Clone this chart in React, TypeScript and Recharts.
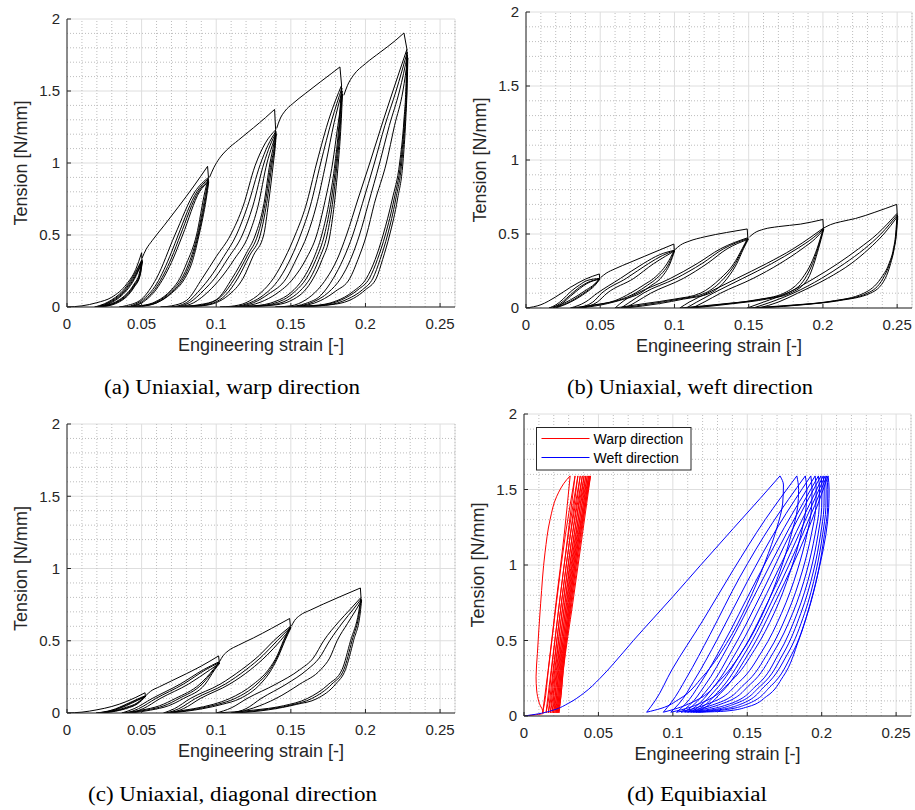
import React from 'react';
import { LineChart, Line, XAxis, YAxis, CartesianGrid, ReferenceLine } from 'recharts';

const strainTicks = [0, 0.05, 0.1, 0.15, 0.2, 0.25];
const tensionTicks = [0, 0.5, 1, 1.5, 2];
const strainMinor = [0.01, 0.02, 0.03, 0.04, 0.06, 0.07, 0.08, 0.09, 0.11, 0.12, 0.13, 0.14, 0.16, 0.17, 0.18, 0.19, 0.21, 0.22, 0.23, 0.24, 0.26];
const tensionMinor = [0.1, 0.2, 0.3, 0.4, 0.6, 0.7, 0.8, 0.9, 1.1, 1.2, 1.3, 1.4, 1.6, 1.7, 1.8, 1.9];

// every curve is a flat list: strain, tension, strain, tension, ...

// (a) uniaxial, warp
const warpEnvelope = [
  [0, 0, 0.01, 0.008, 0.02, 0.03, 0.03, 0.068, 0.04, 0.16, 0.046, 0.26, 0.05, 0.377],
  [0.0503, 0.34, 0.053, 0.4, 0.057, 0.46, 0.065, 0.565, 0.075, 0.7, 0.085, 0.84, 0.0942, 0.977],
  [0.0955, 0.9, 0.0985, 0.97, 0.102, 1.03, 0.107, 1.09, 0.115, 1.16, 0.125, 1.245, 0.133, 1.315, 0.1391, 1.372],
  [0.1405, 1.24, 0.1425, 1.3, 0.146, 1.36, 0.151, 1.41, 0.16, 1.485, 0.17, 1.565, 0.177, 1.62, 0.1829, 1.667],
  [0.1855, 1.47, 0.188, 1.54, 0.192, 1.61, 0.2, 1.69, 0.21, 1.77, 0.22, 1.85, 0.2258, 1.903],
];
const warpDrops = [
  [0.05, 0.377, 0.0502, 0.33],
  [0.0942, 0.977, 0.0948, 0.9],
  [0.1391, 1.372, 0.1398, 1.23],
  [0.1829, 1.667, 0.184, 1.54],
  [0.2258, 1.903, 0.2278, 1.79],
];
const warpReload = [
  [0.0185, 0, 0.025, 0.022, 0.03, 0.05, 0.035, 0.088, 0.04, 0.145, 0.045, 0.225, 0.0502, 0.33],
  [0.0195, 0, 0.025, 0.018, 0.03, 0.044, 0.035, 0.08, 0.04, 0.135, 0.045, 0.212, 0.0503, 0.325],
  [0.0205, 0, 0.025, 0.014, 0.03, 0.038, 0.035, 0.072, 0.04, 0.125, 0.045, 0.2, 0.0504, 0.32],
  [0.0215, 0, 0.025, 0.01, 0.03, 0.032, 0.035, 0.065, 0.04, 0.115, 0.045, 0.19, 0.0505, 0.315],
  [0.035, 0, 0.04, 0.01, 0.05, 0.055, 0.06, 0.2, 0.0723, 0.5, 0.0857, 0.8, 0.0948, 0.9],
  [0.04, 0, 0.05, 0.045, 0.06, 0.16, 0.07, 0.38, 0.0745, 0.5, 0.087, 0.8, 0.0948, 0.89],
  [0.0415, 0, 0.05, 0.035, 0.06, 0.14, 0.07, 0.34, 0.076, 0.5, 0.088, 0.8, 0.0949, 0.88],
  [0.043, 0, 0.05, 0.028, 0.06, 0.125, 0.07, 0.31, 0.0775, 0.5, 0.0888, 0.8, 0.095, 0.87],
  [0.0627, 0, 0.07, 0.008, 0.08, 0.045, 0.0907, 0.2, 0.1, 0.35, 0.1096, 0.5, 0.118, 0.7, 0.126, 0.98, 0.133, 1.14, 0.1398, 1.23],
  [0.07, 0, 0.08, 0.03, 0.09, 0.13, 0.0955, 0.2, 0.105, 0.35, 0.1135, 0.5, 0.121, 0.7, 0.1295, 0.99, 0.1345, 1.12, 0.14, 1.22],
  [0.0725, 0, 0.082, 0.03, 0.092, 0.12, 0.099, 0.2, 0.108, 0.34, 0.1175, 0.5, 0.1245, 0.7, 0.132, 1.0, 0.136, 1.12, 0.1401, 1.21],
  [0.075, 0, 0.085, 0.03, 0.095, 0.11, 0.103, 0.2, 0.112, 0.33, 0.1218, 0.5, 0.128, 0.7, 0.134, 1.0, 0.1375, 1.12, 0.1402, 1.2],
  [0.1025, 0, 0.11, 0.005, 0.12, 0.03, 0.13, 0.1, 0.1384, 0.2, 0.146, 0.34, 0.1529, 0.5, 0.16, 0.7, 0.1673, 1.0, 0.176, 1.32, 0.184, 1.54],
  [0.11, 0, 0.12, 0.02, 0.13, 0.07, 0.1425, 0.2, 0.15, 0.34, 0.1565, 0.5, 0.163, 0.7, 0.17, 1.0, 0.1775, 1.3, 0.1842, 1.52],
  [0.112, 0, 0.125, 0.03, 0.135, 0.09, 0.147, 0.2, 0.154, 0.34, 0.161, 0.5, 0.167, 0.7, 0.1735, 1.0, 0.179, 1.28, 0.1844, 1.5],
  [0.115, 0, 0.13, 0.035, 0.14, 0.09, 0.1518, 0.2, 0.16, 0.33, 0.1673, 0.5, 0.173, 0.74, 0.178, 1.0, 0.1815, 1.26, 0.1846, 1.48],
  [0.1397, 0, 0.15, 0.008, 0.16, 0.05, 0.168, 0.12, 0.174, 0.2, 0.181, 0.33, 0.1873, 0.5, 0.195, 0.75, 0.2029, 1.0, 0.2105, 1.25, 0.2184, 1.5, 0.2278, 1.79],
  [0.148, 0, 0.16, 0.025, 0.17, 0.08, 0.1785, 0.2, 0.185, 0.33, 0.1915, 0.5, 0.198, 0.72, 0.206, 1.0, 0.213, 1.26, 0.2205, 1.5, 0.228, 1.77],
  [0.15, 0, 0.165, 0.035, 0.175, 0.1, 0.1835, 0.2, 0.19, 0.33, 0.196, 0.5, 0.202, 0.72, 0.2095, 1.0, 0.216, 1.26, 0.2228, 1.5, 0.2282, 1.75],
  [0.153, 0, 0.17, 0.045, 0.18, 0.11, 0.1896, 0.2, 0.195, 0.33, 0.2007, 0.5, 0.206, 0.72, 0.214, 1.0, 0.2195, 1.26, 0.2251, 1.5, 0.2284, 1.73],
];
const warpUnload = [
  [0.0185, 0, 0.025, 0.01, 0.03, 0.024, 0.035, 0.05, 0.04, 0.092, 0.045, 0.16, 0.0485, 0.235, 0.0502, 0.33],
  [0.0195, 0, 0.025, 0.008, 0.03, 0.02, 0.035, 0.045, 0.04, 0.085, 0.045, 0.152, 0.0488, 0.23, 0.0503, 0.325],
  [0.0205, 0, 0.025, 0.006, 0.03, 0.017, 0.035, 0.04, 0.04, 0.078, 0.045, 0.145, 0.049, 0.225, 0.0504, 0.32],
  [0.0215, 0, 0.025, 0.004, 0.03, 0.014, 0.035, 0.035, 0.04, 0.072, 0.045, 0.138, 0.049, 0.22, 0.0505, 0.315],
  [0.035, 0, 0.05, 0.01, 0.06, 0.04, 0.07, 0.12, 0.0757, 0.2, 0.08, 0.3, 0.0868, 0.5, 0.0924, 0.8, 0.0948, 0.9],
  [0.04, 0, 0.05, 0.008, 0.06, 0.035, 0.07, 0.11, 0.077, 0.2, 0.0815, 0.3, 0.0875, 0.5, 0.0928, 0.78, 0.0948, 0.89],
  [0.0415, 0, 0.05, 0.006, 0.06, 0.03, 0.07, 0.1, 0.078, 0.2, 0.0825, 0.3, 0.088, 0.5, 0.093, 0.76, 0.0949, 0.88],
  [0.043, 0, 0.05, 0.005, 0.06, 0.028, 0.07, 0.095, 0.079, 0.2, 0.0835, 0.3, 0.0885, 0.5, 0.0933, 0.75, 0.095, 0.87],
  [0.0627, 0, 0.08, 0.006, 0.09, 0.018, 0.1, 0.05, 0.1107, 0.2, 0.12, 0.37, 0.1262, 0.5, 0.132, 0.72, 0.136, 1.0, 0.1385, 1.13, 0.1398, 1.23],
  [0.07, 0, 0.085, 0.008, 0.095, 0.025, 0.103, 0.07, 0.1125, 0.2, 0.121, 0.36, 0.1278, 0.5, 0.1328, 0.72, 0.1368, 1.0, 0.139, 1.12, 0.14, 1.22],
  [0.0725, 0, 0.088, 0.008, 0.098, 0.028, 0.106, 0.08, 0.1145, 0.2, 0.1225, 0.36, 0.1295, 0.5, 0.1338, 0.72, 0.1375, 1.0, 0.1393, 1.12, 0.1401, 1.21],
  [0.075, 0, 0.09, 0.008, 0.1, 0.03, 0.108, 0.08, 0.118, 0.2, 0.125, 0.36, 0.1318, 0.5, 0.135, 0.72, 0.1383, 1.0, 0.1396, 1.12, 0.1402, 1.2],
  [0.1025, 0, 0.125, 0.008, 0.14, 0.04, 0.15, 0.1, 0.1584, 0.2, 0.165, 0.33, 0.1707, 0.5, 0.176, 0.75, 0.1796, 1.0, 0.1825, 1.3, 0.184, 1.54],
  [0.11, 0, 0.13, 0.01, 0.145, 0.05, 0.153, 0.11, 0.1605, 0.2, 0.1668, 0.33, 0.1725, 0.5, 0.1772, 0.75, 0.1803, 1.0, 0.1828, 1.28, 0.1842, 1.52],
  [0.112, 0, 0.135, 0.012, 0.148, 0.05, 0.156, 0.11, 0.163, 0.2, 0.1688, 0.33, 0.1743, 0.5, 0.1783, 0.75, 0.181, 1.0, 0.1832, 1.27, 0.1844, 1.5],
  [0.115, 0, 0.14, 0.015, 0.152, 0.055, 0.159, 0.11, 0.1651, 0.2, 0.171, 0.33, 0.1762, 0.5, 0.1795, 0.75, 0.1818, 1.0, 0.1836, 1.26, 0.1846, 1.48],
  [0.1397, 0, 0.165, 0.01, 0.18, 0.04, 0.192, 0.11, 0.2007, 0.2, 0.2065, 0.33, 0.2118, 0.5, 0.218, 0.75, 0.2229, 1.0, 0.2258, 1.3, 0.2272, 1.55, 0.2278, 1.79],
  [0.148, 0, 0.17, 0.012, 0.184, 0.05, 0.195, 0.12, 0.2027, 0.2, 0.208, 0.33, 0.2133, 0.5, 0.2192, 0.75, 0.2236, 1.0, 0.2262, 1.3, 0.2275, 1.55, 0.228, 1.77],
  [0.15, 0, 0.175, 0.015, 0.188, 0.055, 0.198, 0.12, 0.205, 0.2, 0.2098, 0.33, 0.2148, 0.5, 0.2203, 0.75, 0.2243, 1.0, 0.2266, 1.3, 0.2278, 1.55, 0.2282, 1.75],
  [0.153, 0, 0.18, 0.02, 0.192, 0.06, 0.2, 0.12, 0.2073, 0.2, 0.2115, 0.33, 0.2162, 0.5, 0.2215, 0.75, 0.2251, 1.0, 0.227, 1.3, 0.228, 1.55, 0.2284, 1.73],
];

// (b) uniaxial, weft
const weftEnvelope = [
  [0, 0, 0.01, 0.022, 0.02, 0.075, 0.03, 0.14, 0.04, 0.195, 0.0494, 0.23],
  [0.0502, 0.205, 0.054, 0.235, 0.06, 0.265, 0.07, 0.308, 0.08, 0.35, 0.09, 0.392, 0.0996, 0.432],
  [0.1004, 0.395, 0.104, 0.425, 0.11, 0.452, 0.12, 0.48, 0.135, 0.51, 0.149, 0.534],
  [0.1505, 0.48, 0.154, 0.508, 0.16, 0.532, 0.17, 0.55, 0.185, 0.567, 0.2, 0.598],
  [0.2005, 0.54, 0.205, 0.563, 0.212, 0.583, 0.222, 0.605, 0.235, 0.647, 0.2497, 0.7],
];
const weftDrops = [
  [0.0494, 0.23, 0.0496, 0.2],
  [0.0996, 0.432, 0.0999, 0.39],
  [0.149, 0.534, 0.1494, 0.475],
  [0.2, 0.598, 0.2003, 0.54],
  [0.2497, 0.7, 0.25, 0.64],
];
const weftReload = [
  [0.0155, 0, 0.02, 0.02, 0.025, 0.06, 0.03, 0.11, 0.036, 0.155, 0.041, 0.185, 0.0496, 0.2],
  [0.018, 0, 0.025, 0.045, 0.03, 0.09, 0.036, 0.14, 0.041, 0.17, 0.0497, 0.198],
  [0.02, 0, 0.025, 0.035, 0.03, 0.08, 0.036, 0.13, 0.041, 0.165, 0.0498, 0.195],
  [0.03, 0, 0.04, 0.04, 0.048, 0.1, 0.0636, 0.2, 0.079, 0.3, 0.09, 0.36, 0.0999, 0.39],
  [0.034, 0, 0.045, 0.04, 0.051, 0.1, 0.0675, 0.2, 0.0825, 0.3, 0.092, 0.355, 0.1, 0.388],
  [0.037, 0, 0.048, 0.04, 0.0546, 0.1, 0.0726, 0.2, 0.086, 0.3, 0.094, 0.35, 0.1001, 0.386],
  [0.06, 0, 0.066, 0.05, 0.075, 0.1, 0.0973, 0.2, 0.1153, 0.3, 0.131, 0.4, 0.1494, 0.475],
  [0.064, 0, 0.07, 0.04, 0.079, 0.1, 0.101, 0.2, 0.1185, 0.3, 0.133, 0.4, 0.1496, 0.47],
  [0.067, 0, 0.074, 0.04, 0.084, 0.1, 0.106, 0.2, 0.122, 0.3, 0.1355, 0.4, 0.1498, 0.465],
  [0.1036, 0, 0.11, 0.04, 0.122, 0.1, 0.142, 0.2, 0.162, 0.3, 0.18, 0.4, 0.192, 0.48, 0.2003, 0.54],
  [0.108, 0, 0.115, 0.04, 0.126, 0.1, 0.146, 0.2, 0.1655, 0.3, 0.1825, 0.4, 0.1935, 0.475, 0.2004, 0.535],
  [0.112, 0, 0.12, 0.04, 0.131, 0.1, 0.153, 0.2, 0.171, 0.3, 0.186, 0.4, 0.195, 0.47, 0.2005, 0.53],
  [0.149, 0, 0.16, 0.04, 0.176, 0.1, 0.194, 0.2, 0.21, 0.3, 0.224, 0.4, 0.2366, 0.5, 0.25, 0.64],
  [0.153, 0, 0.165, 0.04, 0.18, 0.1, 0.199, 0.2, 0.2145, 0.3, 0.228, 0.4, 0.239, 0.5, 0.2502, 0.63],
  [0.157, 0, 0.17, 0.04, 0.183, 0.1, 0.203, 0.2, 0.219, 0.3, 0.231, 0.4, 0.241, 0.5, 0.2504, 0.62],
];
const weftUnload = [
  [0.0155, 0, 0.02, 0.012, 0.025, 0.03, 0.03, 0.055, 0.035, 0.085, 0.041, 0.125, 0.046, 0.16, 0.0496, 0.2],
  [0.018, 0, 0.025, 0.022, 0.03, 0.045, 0.035, 0.075, 0.041, 0.115, 0.046, 0.155, 0.0497, 0.198],
  [0.02, 0, 0.025, 0.018, 0.03, 0.04, 0.035, 0.068, 0.041, 0.108, 0.046, 0.148, 0.0498, 0.195],
  [0.03, 0, 0.045, 0.02, 0.06, 0.05, 0.0703, 0.1, 0.08, 0.16, 0.086, 0.2, 0.095, 0.3, 0.0999, 0.39],
  [0.034, 0, 0.05, 0.025, 0.063, 0.055, 0.0735, 0.1, 0.082, 0.155, 0.088, 0.2, 0.0962, 0.3, 0.1, 0.388],
  [0.037, 0, 0.055, 0.03, 0.066, 0.06, 0.077, 0.1, 0.084, 0.15, 0.0906, 0.2, 0.097, 0.3, 0.1001, 0.386],
  [0.06, 0, 0.08, 0.03, 0.1, 0.06, 0.1175, 0.1, 0.131, 0.2, 0.14, 0.3, 0.1456, 0.4, 0.1494, 0.475],
  [0.064, 0, 0.085, 0.03, 0.103, 0.06, 0.1205, 0.1, 0.1333, 0.2, 0.141, 0.3, 0.146, 0.4, 0.1496, 0.47],
  [0.067, 0, 0.09, 0.03, 0.106, 0.06, 0.124, 0.1, 0.1355, 0.2, 0.142, 0.3, 0.1465, 0.4, 0.1498, 0.465],
  [0.1036, 0, 0.13, 0.025, 0.155, 0.055, 0.1737, 0.1, 0.186, 0.2, 0.192, 0.3, 0.196, 0.4, 0.2003, 0.54],
  [0.108, 0, 0.135, 0.028, 0.158, 0.058, 0.1758, 0.1, 0.188, 0.2, 0.193, 0.3, 0.1965, 0.4, 0.2004, 0.535],
  [0.112, 0, 0.14, 0.03, 0.162, 0.06, 0.178, 0.1, 0.19, 0.2, 0.194, 0.3, 0.197, 0.4, 0.2005, 0.53],
  [0.149, 0, 0.18, 0.02, 0.205, 0.045, 0.2276, 0.1, 0.239, 0.2, 0.2445, 0.3, 0.2475, 0.4, 0.249, 0.5, 0.25, 0.64],
  [0.153, 0, 0.185, 0.022, 0.208, 0.048, 0.23, 0.1, 0.2405, 0.2, 0.245, 0.3, 0.2478, 0.4, 0.2493, 0.5, 0.2502, 0.63],
  [0.157, 0, 0.19, 0.025, 0.211, 0.05, 0.232, 0.1, 0.242, 0.2, 0.2456, 0.3, 0.248, 0.4, 0.2495, 0.5, 0.2504, 0.62],
];

// (c) uniaxial, diagonal
const diagEnvelope = [
  [0, 0, 0.01, 0.006, 0.02, 0.022, 0.03, 0.045, 0.04, 0.08, 0.0523, 0.14],
  [0.0528, 0.12, 0.056, 0.15, 0.062, 0.182, 0.07, 0.222, 0.08, 0.272, 0.09, 0.325, 0.1016, 0.395],
  [0.1022, 0.355, 0.1045, 0.395, 0.108, 0.43, 0.115, 0.47, 0.125, 0.52, 0.137, 0.585, 0.1492, 0.654],
  [0.1503, 0.6, 0.1525, 0.64, 0.156, 0.675, 0.163, 0.712, 0.172, 0.755, 0.183, 0.805, 0.1966, 0.865],
];
const diagDrops = [
  [0.0523, 0.14, 0.0525, 0.12],
  [0.1016, 0.395, 0.102, 0.355],
  [0.1492, 0.654, 0.1497, 0.6],
  [0.1966, 0.865, 0.197, 0.8],
];
const diagReload = [
  [0.0195, 0, 0.03, 0.02, 0.04, 0.062, 0.047, 0.095, 0.0525, 0.12],
  [0.021, 0, 0.03, 0.017, 0.04, 0.057, 0.047, 0.09, 0.0527, 0.118],
  [0.022, 0, 0.03, 0.014, 0.04, 0.052, 0.047, 0.086, 0.0529, 0.116],
  [0.0367, 0, 0.045, 0.03, 0.057, 0.1, 0.0758, 0.2, 0.0915, 0.3, 0.102, 0.355],
  [0.04, 0, 0.048, 0.03, 0.0595, 0.1, 0.078, 0.2, 0.093, 0.3, 0.1022, 0.35],
  [0.043, 0, 0.051, 0.03, 0.0624, 0.1, 0.0814, 0.2, 0.096, 0.3, 0.1024, 0.345],
  [0.0647, 0, 0.072, 0.03, 0.0826, 0.1, 0.1027, 0.2, 0.117, 0.3, 0.129, 0.4, 0.1385, 0.5, 0.1497, 0.6],
  [0.067, 0, 0.075, 0.03, 0.086, 0.1, 0.106, 0.2, 0.12, 0.3, 0.1315, 0.4, 0.1408, 0.5, 0.1499, 0.595],
  [0.069, 0, 0.078, 0.03, 0.0893, 0.1, 0.109, 0.2, 0.123, 0.3, 0.134, 0.4, 0.143, 0.5, 0.1501, 0.59],
  [0.1, 0, 0.11, 0.035, 0.1206, 0.1, 0.14, 0.2, 0.156, 0.3, 0.165, 0.38, 0.172, 0.5, 0.182, 0.63, 0.19, 0.72, 0.197, 0.8],
  [0.11, 0, 0.12, 0.03, 0.13, 0.1, 0.147, 0.2, 0.161, 0.3, 0.169, 0.38, 0.176, 0.5, 0.185, 0.63, 0.192, 0.72, 0.1972, 0.79],
  [0.113, 0, 0.125, 0.035, 0.14, 0.1, 0.156, 0.2, 0.17, 0.3, 0.176, 0.38, 0.181, 0.5, 0.188, 0.62, 0.194, 0.72, 0.1974, 0.78],
];
const diagUnload = [
  [0.0195, 0, 0.03, 0.012, 0.04, 0.04, 0.047, 0.07, 0.0525, 0.12],
  [0.021, 0, 0.03, 0.01, 0.04, 0.035, 0.047, 0.066, 0.0527, 0.118],
  [0.022, 0, 0.03, 0.008, 0.04, 0.032, 0.047, 0.062, 0.0529, 0.116],
  [0.0367, 0, 0.05, 0.02, 0.062, 0.05, 0.0725, 0.1, 0.089, 0.2, 0.098, 0.3, 0.102, 0.355],
  [0.04, 0, 0.053, 0.02, 0.065, 0.05, 0.075, 0.1, 0.0905, 0.2, 0.0985, 0.3, 0.1022, 0.35],
  [0.043, 0, 0.056, 0.02, 0.068, 0.05, 0.078, 0.1, 0.0926, 0.2, 0.099, 0.3, 0.1024, 0.345],
  [0.0647, 0, 0.085, 0.03, 0.098, 0.06, 0.109, 0.1, 0.125, 0.2, 0.135, 0.3, 0.141, 0.4, 0.145, 0.5, 0.1497, 0.6],
  [0.067, 0, 0.088, 0.03, 0.101, 0.06, 0.1125, 0.1, 0.1273, 0.2, 0.136, 0.3, 0.1415, 0.4, 0.1455, 0.5, 0.1499, 0.595],
  [0.069, 0, 0.091, 0.03, 0.104, 0.06, 0.116, 0.1, 0.1295, 0.2, 0.137, 0.3, 0.142, 0.4, 0.146, 0.5, 0.1501, 0.59],
  [0.1, 0, 0.125, 0.02, 0.145, 0.05, 0.161, 0.1, 0.1754, 0.2, 0.1843, 0.3, 0.19, 0.5, 0.1955, 0.7, 0.197, 0.8],
  [0.11, 0, 0.13, 0.02, 0.15, 0.055, 0.164, 0.1, 0.1775, 0.2, 0.1855, 0.3, 0.191, 0.5, 0.196, 0.7, 0.1972, 0.79],
  [0.113, 0, 0.135, 0.022, 0.154, 0.06, 0.1676, 0.1, 0.18, 0.2, 0.1866, 0.3, 0.192, 0.5, 0.1966, 0.7, 0.1974, 0.78],
];

// (d) equibiaxial, warp direction (red)
const biaxWarpFirst = [0, 0, 0.006, 0.006, 0.013, 0.018, 0.0103, 0.084, 0.0085, 0.172, 0.0081, 0.26, 0.009, 0.415, 0.0112, 0.747, 0.0141, 1.08, 0.0175, 1.3, 0.022, 1.455, 0.0287, 1.565, 0.031, 1.59];
const biaxWarpUnload = [
  [0.031, 1.59, 0.027, 1.2, 0.0215, 0.75, 0.0162, 0.3, 0.0133, 0.08, 0.0125, 0.02],
  [0.0343, 1.59, 0.0295, 1.2, 0.0238, 0.75, 0.0182, 0.3, 0.0155, 0.08, 0.0148, 0.02],
  [0.0362, 1.59, 0.0311, 1.2, 0.0252, 0.75, 0.0195, 0.3, 0.017, 0.08, 0.0163, 0.02],
  [0.0378, 1.59, 0.0325, 1.2, 0.0264, 0.75, 0.0206, 0.3, 0.0183, 0.08, 0.0176, 0.02],
  [0.0392, 1.59, 0.0338, 1.2, 0.0276, 0.75, 0.0217, 0.3, 0.0195, 0.08, 0.0188, 0.02],
  [0.0404, 1.59, 0.035, 1.2, 0.0287, 0.75, 0.0227, 0.3, 0.0205, 0.08, 0.0198, 0.02],
  [0.0415, 1.59, 0.036, 1.2, 0.0297, 0.75, 0.0236, 0.3, 0.0214, 0.08, 0.0207, 0.02],
  [0.0425, 1.59, 0.037, 1.2, 0.0306, 0.75, 0.0244, 0.3, 0.0222, 0.08, 0.0215, 0.02],
  [0.0434, 1.59, 0.0379, 1.2, 0.0315, 0.75, 0.0251, 0.3, 0.0229, 0.08, 0.0222, 0.02],
  [0.0441, 1.59, 0.0386, 1.2, 0.0322, 0.75, 0.0258, 0.3, 0.0236, 0.08, 0.0229, 0.02],
  [0.0447, 1.59, 0.0392, 1.2, 0.0328, 0.75, 0.0264, 0.3, 0.0243, 0.08, 0.0236, 0.02],
];
const biaxWarpReload = [
  [0.0125, 0.02, 0.0137, 0.08, 0.0163, 0.3, 0.0218, 0.75, 0.0278, 1.2, 0.0343, 1.59],
  [0.0148, 0.02, 0.016, 0.08, 0.0185, 0.3, 0.0238, 0.75, 0.0298, 1.2, 0.0362, 1.59],
  [0.0163, 0.02, 0.0175, 0.08, 0.0199, 0.3, 0.0251, 0.75, 0.0312, 1.2, 0.0378, 1.59],
  [0.0176, 0.02, 0.0188, 0.08, 0.0211, 0.3, 0.0263, 0.75, 0.0325, 1.2, 0.0392, 1.59],
  [0.0188, 0.02, 0.02, 0.08, 0.0222, 0.3, 0.0274, 0.75, 0.0336, 1.2, 0.0404, 1.59],
  [0.0198, 0.02, 0.021, 0.08, 0.0232, 0.3, 0.0284, 0.75, 0.0346, 1.2, 0.0415, 1.59],
  [0.0207, 0.02, 0.0219, 0.08, 0.0241, 0.3, 0.0293, 0.75, 0.0356, 1.2, 0.0425, 1.59],
  [0.0215, 0.02, 0.0227, 0.08, 0.0249, 0.3, 0.0302, 0.75, 0.0365, 1.2, 0.0434, 1.59],
  [0.0222, 0.02, 0.0234, 0.08, 0.0256, 0.3, 0.0309, 0.75, 0.0372, 1.2, 0.0441, 1.59],
  [0.0229, 0.02, 0.0241, 0.08, 0.0263, 0.3, 0.0316, 0.75, 0.0379, 1.2, 0.0447, 1.59],
];

// (d) equibiaxial, weft direction (blue)
const biaxWeftFirst = [0, 0, 0.01, 0.015, 0.02, 0.04, 0.03, 0.085, 0.04, 0.15, 0.0511, 0.25, 0.06, 0.345, 0.0735, 0.5, 0.087, 0.648, 0.1, 0.79, 0.1183, 0.995, 0.1406, 1.242, 0.1586, 1.44, 0.172, 1.59];
const biaxWeftUnload = [
  [0.172, 1.59, 0.1743, 1.53, 0.1738, 1.41, 0.17, 1.25, 0.162, 1.02, 0.15, 0.74, 0.136, 0.48, 0.12, 0.26, 0.104, 0.11, 0.092, 0.05, 0.0824, 0.025],
  [0.1833, 1.59, 0.1845, 1.5, 0.1838, 1.38, 0.1795, 1.2, 0.172, 0.96, 0.161, 0.69, 0.148, 0.45, 0.132, 0.24, 0.115, 0.1, 0.101, 0.045, 0.0936, 0.025],
  [0.189, 1.59, 0.19, 1.5, 0.1895, 1.38, 0.186, 1.2, 0.179, 0.96, 0.168, 0.68, 0.155, 0.44, 0.139, 0.23, 0.121, 0.095, 0.106, 0.042, 0.0986, 0.025],
  [0.1927, 1.59, 0.1935, 1.5, 0.1932, 1.38, 0.19, 1.2, 0.1835, 0.96, 0.173, 0.68, 0.16, 0.43, 0.144, 0.22, 0.126, 0.09, 0.11, 0.04, 0.1025, 0.025],
  [0.1956, 1.59, 0.1963, 1.5, 0.196, 1.38, 0.193, 1.2, 0.187, 0.96, 0.177, 0.68, 0.164, 0.42, 0.148, 0.21, 0.13, 0.085, 0.113, 0.038, 0.1055, 0.025],
  [0.1978, 1.59, 0.1985, 1.5, 0.1983, 1.38, 0.1955, 1.2, 0.19, 0.96, 0.1805, 0.68, 0.1675, 0.42, 0.152, 0.21, 0.134, 0.085, 0.116, 0.037, 0.108, 0.025],
  [0.1995, 1.59, 0.2002, 1.5, 0.2, 1.38, 0.1975, 1.2, 0.1925, 0.96, 0.1835, 0.68, 0.171, 0.41, 0.156, 0.2, 0.138, 0.08, 0.119, 0.036, 0.11, 0.025],
  [0.201, 1.59, 0.2017, 1.5, 0.2015, 1.38, 0.1992, 1.2, 0.1945, 0.96, 0.186, 0.68, 0.174, 0.41, 0.159, 0.2, 0.141, 0.078, 0.122, 0.035, 0.112, 0.025],
  [0.2023, 1.59, 0.203, 1.5, 0.2028, 1.38, 0.2006, 1.2, 0.1962, 0.96, 0.1885, 0.68, 0.177, 0.41, 0.162, 0.2, 0.145, 0.076, 0.125, 0.034, 0.1138, 0.025],
  [0.2034, 1.59, 0.2041, 1.5, 0.204, 1.38, 0.2018, 1.2, 0.1978, 0.96, 0.1905, 0.68, 0.18, 0.41, 0.166, 0.2, 0.149, 0.075, 0.128, 0.033, 0.1155, 0.025],
  [0.2043, 1.59, 0.205, 1.5, 0.2047, 1.38, 0.2028, 1.2, 0.1988, 1.0, 0.1925, 0.75, 0.1845, 0.5, 0.174, 0.26, 0.163, 0.13, 0.15, 0.06, 0.135, 0.032, 0.117, 0.025],
];
const biaxWeftReload = [
  [0.0824, 0.025, 0.088, 0.1, 0.0993, 0.305, 0.12, 0.63, 0.1406, 0.968, 0.162, 1.3, 0.1833, 1.59],
  [0.0936, 0.025, 0.099, 0.09, 0.109, 0.25, 0.125, 0.54, 0.145, 0.92, 0.167, 1.28, 0.189, 1.59],
  [0.0986, 0.025, 0.104, 0.08, 0.114, 0.23, 0.13, 0.51, 0.15, 0.89, 0.171, 1.26, 0.1927, 1.59],
  [0.1025, 0.025, 0.108, 0.075, 0.118, 0.21, 0.134, 0.48, 0.154, 0.86, 0.175, 1.25, 0.1956, 1.59],
  [0.1055, 0.025, 0.111, 0.07, 0.121, 0.195, 0.137, 0.46, 0.157, 0.84, 0.178, 1.24, 0.1978, 1.59],
  [0.108, 0.025, 0.113, 0.065, 0.124, 0.185, 0.14, 0.44, 0.16, 0.82, 0.18, 1.23, 0.1995, 1.59],
  [0.11, 0.025, 0.115, 0.06, 0.126, 0.175, 0.143, 0.43, 0.163, 0.81, 0.183, 1.22, 0.201, 1.59],
  [0.112, 0.025, 0.117, 0.058, 0.128, 0.165, 0.146, 0.42, 0.166, 0.8, 0.185, 1.21, 0.2023, 1.59],
  [0.1138, 0.025, 0.119, 0.055, 0.13, 0.155, 0.148, 0.41, 0.168, 0.79, 0.187, 1.2, 0.2034, 1.59],
  [0.1155, 0.025, 0.121, 0.053, 0.132, 0.15, 0.15, 0.4, 0.17, 0.78, 0.189, 1.19, 0.2043, 1.59],
];

const toPoints = (c: number[]) => {
  const pts: { x: number; y: number }[] = [];
  for (let i = 0; i < c.length; i += 2) pts.push({ x: c[i], y: c[i + 1] });
  return pts;
};

type Group = { curves: number[][]; type: any; color: string };

const tickStyle = { fontSize: 15, fill: '#262626', fontFamily: 'Liberation Sans, Arial, sans-serif' };

function Panel(props: {
  left: number; top: number; width: number; height: number;
  mt: number; mr: number; yw: number; groups: Group[];
}) {
  const { left, top, width, height, mt, mr, yw, groups } = props;
  return (
    <div style={{ position: 'absolute', left, top }}>
      <LineChart width={width} height={height} margin={{ top: mt, right: mr, left: 0, bottom: 0 }}>
        {strainMinor.map((v) => (
          <ReferenceLine key={'mx' + v} x={v} stroke="#bdbdbd" strokeDasharray="1 2" />
        ))}
        {tensionMinor.map((v) => (
          <ReferenceLine key={'my' + v} y={v} stroke="#bdbdbd" strokeDasharray="1 2" />
        ))}
        <CartesianGrid stroke="#dedede" />
        <XAxis
          type="number" dataKey="x" domain={[0, 0.26]} ticks={strainTicks} allowDataOverflow
          interval={0} height={46} tickSize={-4} tickMargin={15} tick={tickStyle}
          stroke="#262626"
        />
        <YAxis
          type="number" domain={[0, 2]} ticks={tensionTicks} allowDataOverflow
          interval={0} width={yw} tickSize={-4} tickMargin={11} tick={tickStyle}
          stroke="#262626"
        />
        {groups.map((g, gi) =>
          g.curves.map((c, ci) => (
            <Line
              key={gi + '-' + ci}
              data={toPoints(c)}
              dataKey="y"
              type={g.type}
              stroke={g.color}
              strokeWidth={1}
              dot={false}
              activeDot={false}
              isAnimationActive={false}
            />
          ))
        )}
      </LineChart>
    </div>
  );
}

const sans = 'Liberation Sans, Arial, sans-serif';
const serif = 'Liberation Serif, Times New Roman, serif';

export default function App() {
  const black = '#000000';
  return (
    <div style={{ position: 'absolute', left: 0, top: 0, width: 915, height: 810, background: '#fff' }}>
      <Panel left={0} top={0} width={460} height={353} mt={19} mr={5} yw={67}
        groups={[
          { curves: warpEnvelope, type: 'monotoneX', color: black },
          { curves: warpDrops, type: 'linear', color: black },
          { curves: warpReload, type: 'monotoneX', color: black },
          { curves: warpUnload, type: 'monotoneX', color: black },
        ]} />
      <Panel left={458} top={0} width={457} height={354} mt={12} mr={3} yw={68}
        groups={[
          { curves: weftEnvelope, type: 'monotoneX', color: black },
          { curves: weftDrops, type: 'linear', color: black },
          { curves: weftReload, type: 'monotoneX', color: black },
          { curves: weftUnload, type: 'monotoneX', color: black },
        ]} />
      <Panel left={0} top={400} width={460} height={359} mt={24} mr={5} yw={67}
        groups={[
          { curves: diagEnvelope, type: 'monotoneX', color: black },
          { curves: diagDrops, type: 'linear', color: black },
          { curves: diagReload, type: 'monotoneX', color: black },
          { curves: diagUnload, type: 'monotoneX', color: black },
        ]} />
      <Panel left={458} top={400} width={457} height={362} mt={14} mr={4} yw={66}
        groups={[
          { curves: [biaxWarpFirst], type: 'monotoneY', color: '#ff0000' },
          { curves: biaxWarpUnload, type: 'monotoneY', color: '#ff0000' },
          { curves: biaxWarpReload, type: 'monotoneY', color: '#ff0000' },
          { curves: [biaxWeftFirst], type: 'monotoneY', color: '#0000ff' },
          { curves: biaxWeftUnload, type: 'monotoneY', color: '#0000ff' },
          { curves: biaxWeftReload, type: 'monotoneY', color: '#0000ff' },
        ]} />

      <svg width={915} height={810} style={{ position: 'absolute', left: 0, top: 0, pointerEvents: 'none' }}>
        <g fontFamily={sans} fontSize={18} fill="#262626">
          <text x={21} y={163} transform="rotate(-90 21 163)" textAnchor="middle" dominantBaseline="central">Tension [N/mm]</text>
          <text x={480} y={160} transform="rotate(-90 480 160)" textAnchor="middle" dominantBaseline="central">Tension [N/mm]</text>
          <text x={21} y={568.5} transform="rotate(-90 21 568.5)" textAnchor="middle" dominantBaseline="central">Tension [N/mm]</text>
          <text x={478} y={565} transform="rotate(-90 478 565)" textAnchor="middle" dominantBaseline="central">Tension [N/mm]</text>
          <text x={261} y={351} textAnchor="middle">Engineering strain [-]</text>
          <text x={719} y={352} textAnchor="middle">Engineering strain [-]</text>
          <text x={261} y={757} textAnchor="middle">Engineering strain [-]</text>
          <text x={717.5} y={760} textAnchor="middle">Engineering strain [-]</text>
        </g>
        <g fontFamily={serif} fontSize={20} fill="#000">
          <text x={232} y={394} textAnchor="middle" textLength={256} lengthAdjust="spacingAndGlyphs">(a) Uniaxial, warp direction</text>
          <text x={690} y={394} textAnchor="middle" textLength={246} lengthAdjust="spacingAndGlyphs">(b) Uniaxial, weft direction</text>
          <text x={232.5} y={801} textAnchor="middle" textLength={289} lengthAdjust="spacingAndGlyphs">(c) Uniaxial, diagonal direction</text>
          <text x={697} y={801} textAnchor="middle" textLength={140} lengthAdjust="spacingAndGlyphs">(d) Equibiaxial</text>
        </g>
        <g>
          <rect x={536.5} y={427.5} width={154.5} height={42.5} fill="#fff" stroke="#262626" strokeWidth={1} />
          <line x1={541.5} x2={589.5} y1={438.5} y2={438.5} stroke="#ff0000" strokeWidth={1} />
          <line x1={541.5} x2={589.5} y1={457.5} y2={457.5} stroke="#0000ff" strokeWidth={1} />
          <text x={593.5} y={443.5} fontFamily={sans} fontSize={14} fill="#000">Warp direction</text>
          <text x={593.5} y={462.5} fontFamily={sans} fontSize={14} fill="#000">Weft direction</text>
        </g>
      </svg>
    </div>
  );
}
